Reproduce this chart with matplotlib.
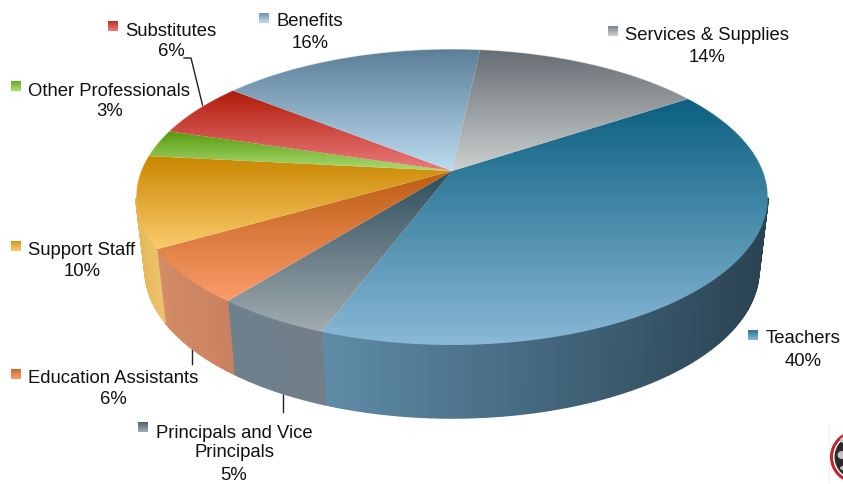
import numpy as np
import matplotlib
matplotlib.use("Agg")
import matplotlib.pyplot as plt
from matplotlib.collections import PolyCollection
from matplotlib.colors import LinearSegmentedColormap, to_rgb
from matplotlib.patches import Circle, Ellipse, PathPatch
from matplotlib.path import Path

plt.rcParams['font.family'] = ['Liberation Sans', 'DejaVu Sans']

# slices run clockwise starting from the Teachers wedge
categories = ['Teachers', 'Principals and Vice\nPrincipals', 'Education Assistants', 'Support Staff',
              'Other Professionals', 'Substitutes', 'Benefits', 'Services & Supplies']
percents = [40, 5, 6, 10, 3, 6, 16, 14]

# top face colours, far edge then near edge
top_far = ['#0a5f80', '#2c4d5c', '#bd5c12', '#c98600', '#559a0c', '#ae1a08', '#5b7f98', '#666d72']
top_near = ['#8ab9d6', '#a2acb0', '#fb9c6c', '#fbcb6c', '#acdc74', '#ec7c7c', '#bcdcf0', '#ccd0d0']
# side wall colours, left then right
side_left = ['#5f8ca8', '#6c808e', '#d48c66', '#e6b85a', '#8fbf50', '#d06060', '#90b0c4', '#a8a8a8']
side_right = ['#2a4353', '#737f88', '#c98160', '#ecc46e', '#8fbf50', '#d06060', '#90b0c4', '#a8a8a8']

# legend text anchors, swatch corners and percent label positions in pixels
label_xy = [(803, 339), (234, 443), (113, 379), (82, 250.5), (109.5, 91), (171, 31), (310, 21), (707, 36)]
percent_xy = [(803, 362), (234, 476), (113, 400), (82, 272), (109.5, 112), (171, 52), (310, 44), (707, 57)]
swatch_xy = [(748, 331), (138, 423), (11, 370), (11, 242), (11, 82), (108, 22), (259, 14), (608, 27)]

leader_lines = [[(184, 59), (191, 59), (203, 108)], [(192, 345), (192, 365)], [(283, 392), (283, 413)]]

# pie projection: apex, radii and perspective strength
APEX_X, APEX_Y = 452, 172
RX, RY, PERSP = 311, 143.4, 0.1757
START_ANGLE = 56.5
WALL_DEPTH = 73
WALL_TAPER = 0.9715


def rim(angle_deg):
    a = np.radians(angle_deg)
    u, v = np.sin(a), -np.cos(a)
    w = 1 - PERSP * v
    return APEX_X + RX * u / w, APEX_Y + RY * v / w


def lower_rim(angle_deg):
    x, y = rim(angle_deg)
    return APEX_X + (x - APEX_X) * WALL_TAPER, y + WALL_DEPTH


def blend(c0, c1, t):
    c0, c1 = np.array(to_rgb(c0)), np.array(to_rgb(c1))
    return c0 + (c1 - c0) * t


def gradient(ax, path, c0, c1, extent, zorder):
    cmap = LinearSegmentedColormap.from_list('g', [c0, c1])
    ramp = np.linspace(0, 1, 256)[:, None]
    im = ax.imshow(ramp, cmap=cmap, extent=extent, aspect='auto', zorder=zorder, interpolation='bilinear')
    im.set_clip_path(PathPatch(path, transform=ax.transData))
    return im


fig = plt.figure(figsize=(8.43, 4.85), dpi=100)
ax = fig.add_axes([0, 0, 1, 1])

edges = START_ANGLE + np.concatenate([[0], np.cumsum(percents)]) * 3.6
arcs = [np.linspace(edges[i], edges[i + 1], 4 * percents[i] + 8) for i in range(len(percents))]

# side walls first as thin quads, only along the near half of the rim
for i, arc in enumerate(arcs):
    tx, ty = rim(arc)
    bx, by = lower_rim(arc)
    span = max(tx.max() - tx.min(), 1)
    quads = []
    shades = []
    for j in range(len(arc) - 1):
        if ty[j] < 200 and ty[j + 1] < 200:
            continue
        quads.append([(tx[j], ty[j]), (tx[j + 1], ty[j + 1]), (bx[j + 1], by[j + 1]), (bx[j], by[j])])
        shades.append(blend(side_left[i], side_right[i], (tx[j] - tx.min()) / span))
    if quads:
        ax.add_collection(PolyCollection(quads, facecolors=shades, edgecolors=shades, linewidths=1.1, zorder=2))

for i, arc in enumerate(arcs):
    fine = np.linspace(arc[0], arc[-1], 200)
    tx, ty = rim(fine)
    xs = np.concatenate([[APEX_X], tx])
    ys = np.concatenate([[APEX_Y], ty])
    path = Path(np.column_stack([xs, ys]))
    ext = (xs.min(), xs.max(), ys.max(), ys.min())
    gradient(ax, path, top_far[i], top_near[i], ext, 3)

# soften the stepped outer edge of the far half of the rim
all_arc = np.linspace(edges[0], edges[-1], 720)
ox, oy = rim(all_arc)
oy_far = np.where(oy < 198, oy, np.nan)
ax.plot(ox, oy_far, color='white', lw=0.7, alpha=0.55, zorder=3.5)

# leader lines sit behind the pie and only show outside it
for pts in leader_lines:
    px, py = zip(*pts)
    ax.plot(px, py, color='#222222', lw=1.0, zorder=1)

for i in range(len(categories)):
    sx, sy = swatch_xy[i]
    swatch_top = blend(top_far[i], top_near[i], 0.25)
    ax.imshow(np.linspace(0, 1, 32)[:, None], extent=(sx, sx + 10, sy + 10, sy), aspect='auto', zorder=4,
              cmap=LinearSegmentedColormap.from_list('s', [swatch_top, top_near[i]]))
    ax.text(*label_xy[i], categories[i], ha='center', va='center', fontsize=13.35, color='#111111',
            linespacing=1.2, zorder=5)
    ax.text(*percent_xy[i], f'{percents[i]}%', ha='center', va='center', fontsize=13.35, color='#111111', zorder=5)

# crest in the lower right corner, cut off by the page edge
ax.plot([829, 829], [425, 485], color='#eef2f5', lw=0.8, zorder=1)
ax.add_patch(Circle((856.5, 458), 25, fc='white', ec='#c0272d', lw=2.2, zorder=4))
ax.add_patch(Circle((856.5, 458), 22, fc='#2a2a2a', ec='none', zorder=4))
for ex, ey, ew, eh in [(846, 441, 12, 7), (842, 456, 9, 8), (846, 469, 12, 5)]:
    ax.add_patch(Ellipse((ex, ey), ew, eh, fc='#c4c4c4', ec='none', zorder=5))

ax.set_xlim(0, 843)
ax.set_ylim(485, 0)
ax.axis('off')

fig.savefig('out.png', dpi=100, facecolor='white')
